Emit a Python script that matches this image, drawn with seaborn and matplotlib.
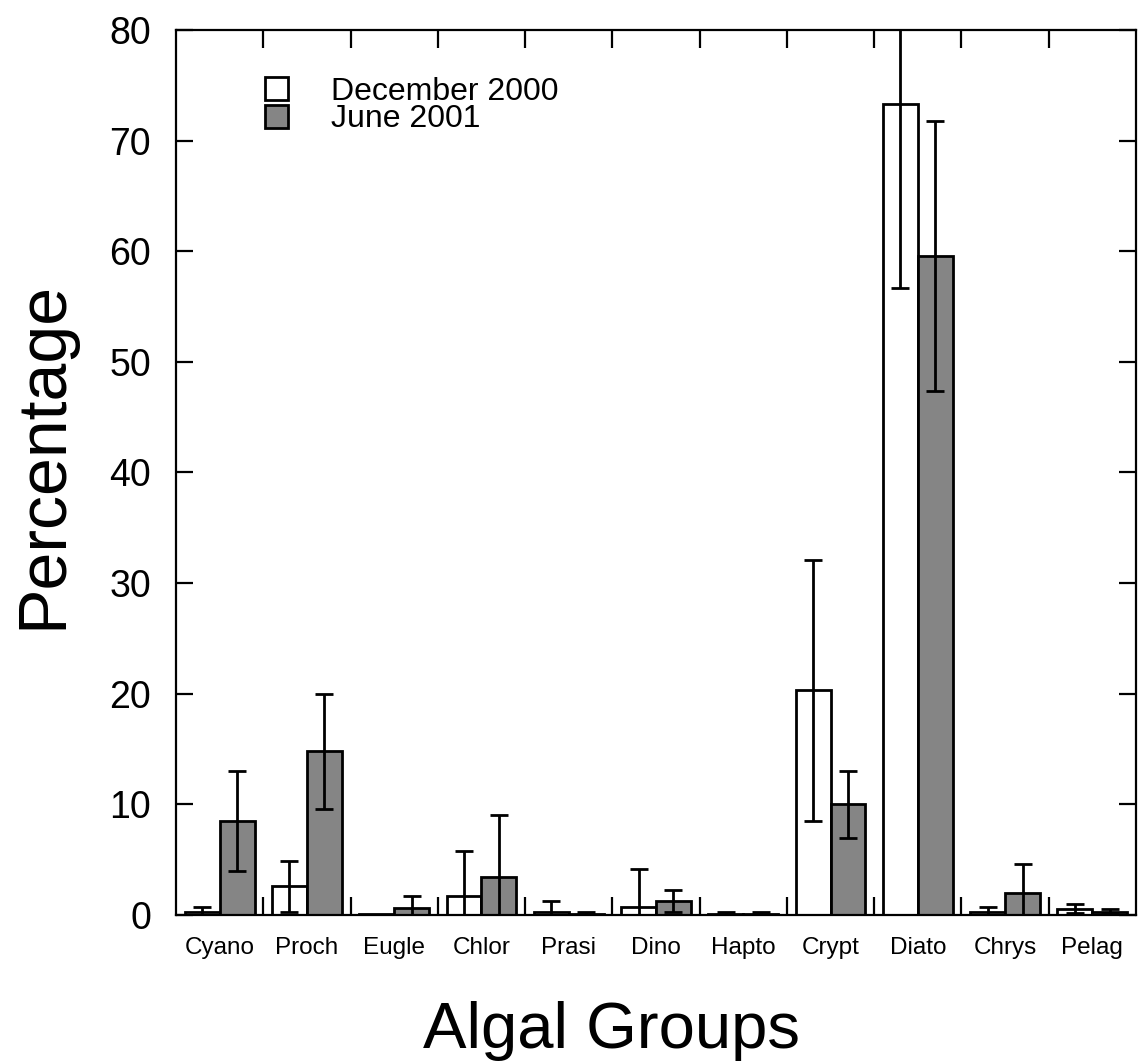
import matplotlib
matplotlib.use("Agg")
import matplotlib.pyplot as plt
import seaborn as sns
import pandas as pd
import numpy as np
from matplotlib.ticker import FixedLocator, MultipleLocator

groups = ["Cyano", "Proch", "Eugle", "Chlor", "Prasi", "Dino", "Hapto",
          "Crypt", "Diato", "Chrys", "Pelag"]
series = ["December 2000", "June 2001"]
dec_mean = [0.3, 2.6, 0.05, 1.75, 0.3, 0.75, 0.05, 20.3, 73.3, 0.3, 0.57]
dec_err = [0.45, 2.3, 0.0, 4.05, 0.95, 3.4, 0.2, 11.8, 16.6, 0.45, 0.43]
jun_mean = [8.5, 14.8, 0.6, 3.4, 0.1, 1.25, 0.05, 10.0, 59.6, 2.0, 0.3]
jun_err = [4.5, 5.2, 1.1, 5.6, 0.15, 1.0, 0.2, 3.05, 12.2, 2.6, 0.25]

df = pd.DataFrame({
    "group": groups * 2,
    "series": [series[0]] * len(groups) + [series[1]] * len(groups),
    "value": dec_mean + jun_mean,
    "err": dec_err + jun_err,
})

sns.set_theme(style="ticks")
plt.rcParams["font.family"] = ["Liberation Sans", "DejaVu Sans"]
plt.rcParams["text.color"] = "black"
plt.rcParams["axes.labelcolor"] = "black"

fig = plt.figure(figsize=(11.39, 10.62), dpi=100)
ax = fig.add_axes([0.1545, 0.1384, 0.9974 - 0.1545, 0.9718 - 0.1384])

sns.barplot(data=df, x="group", y="value", hue="series", order=groups,
            hue_order=series, palette=["white", "#858585"], errorbar=None,
            width=0.8, edgecolor="black", linewidth=2.0, ax=ax, legend=True)

# error bars at bar centres
bars = list(ax.patches)[:2 * len(groups)]
errs = dec_err + jun_err
vals = dec_mean + jun_mean
for p, v, e in zip(bars, vals, errs):
    if e > 0:
        xc = p.get_x() + p.get_width() / 2
        ax.errorbar(xc, v, yerr=e, fmt="none", ecolor="black",
                    elinewidth=2.0, capsize=6.5, capthick=2.0, zorder=5)

ax.set_xlim(-0.5, len(groups) - 0.5)
ax.set_ylim(0, 80)
ax.yaxis.set_major_locator(MultipleLocator(10))

for s in ax.spines.values():
    s.set_visible(True)
    s.set_linewidth(1.6)
    s.set_color("black")

ax.tick_params(axis="y", which="major", direction="in", length=12, width=1.6,
               left=True, right=True, labelsize=27, pad=18, colors="black")
ax.xaxis.set_minor_locator(FixedLocator(np.arange(0.5, len(groups) - 1, 1.0)))
ax.tick_params(axis="x", which="minor", direction="in", length=13, width=1.6,
               top=True, bottom=True, colors="black")
ax.tick_params(axis="x", which="major", length=0, labelsize=17.5, pad=16,
               colors="black")

ax.set_xlabel("Algal Groups", fontsize=47, color="black")
ax.set_ylabel("Percentage", fontsize=49, color="black")
ax.xaxis.set_label_coords(0.454, -0.097)
ax.yaxis.set_label_coords(-0.105, 0.52)

leg = ax.legend(loc="upper left", bbox_to_anchor=(0.076, 0.965), frameon=False,
                fontsize=23, handlelength=0.72, handleheight=0.72,
                handletextpad=1.34, labelspacing=-0.08, borderpad=0)
for h in leg.legend_handles:
    h.set_edgecolor("black")
    h.set_linewidth(2.0)
for t in leg.get_texts():
    t.set_color("black")

fig.savefig("out.png", dpi=100)
